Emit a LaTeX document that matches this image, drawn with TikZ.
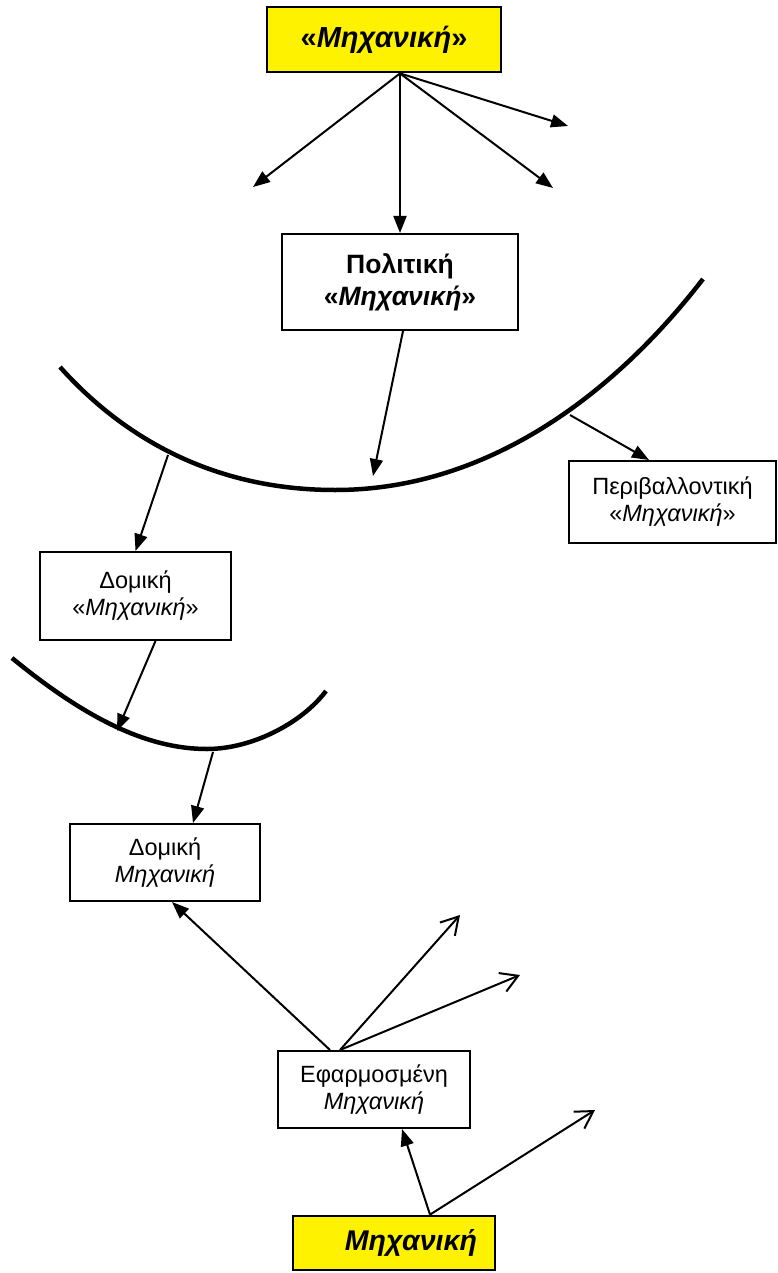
\documentclass[tikz,border=0pt]{standalone}
\usepackage{fontspec}
\setmainfont{Liberation Sans}
\usetikzlibrary{arrows.meta,calc}

\begin{document}
\begin{tikzpicture}[x=1pt,y=-1pt,
  box/.style={draw, line width=2pt, rectangle, inner sep=0pt, align=center,
              font=\fontsize{23.5}{27}\selectfont},
  ybox/.style={box, fill=yellow, line width=2.8pt},
  arr/.style={line width=2pt, -{Triangle[length=17pt,width=13pt]}},
  barbarrow/.style={line width=2pt, -{Straight Barb[length=17pt,width=20pt]}},
  curvestroke/.style={line width=4.5pt},
]
\useasboundingbox (0,0) rectangle (777,1273);

% boxes
\node[ybox, minimum width=234pt, minimum height=65pt,
      font=\fontsize{29}{34}\selectfont\bfseries] (top) at (384,39.5) {«\textit{Μηχανική}»};
\node[box, minimum width=236pt, minimum height=96pt,
      font=\fontsize{26.5}{32}\selectfont\bfseries] (pol) at (400,282) {Πολιτική\\«\textit{Μηχανική}»};
\node[box, minimum width=207pt, minimum height=82pt] (per) at (672.5,502) {Περιβαλλοντική\\«\textit{Μηχανική}»};
\node[box, minimum width=191pt, minimum height=88pt] (dom1) at (135.5,596) {Δομική\\«\textit{Μηχανική}»};
\node[box, minimum width=190pt, minimum height=77pt] (dom2) at (165,862.5) {Δομική\\\textit{Μηχανική}};
\node[box, minimum width=192pt, minimum height=77pt] (ef) at (374,1089.5) {Εφαρμοσμένη\\\textit{Μηχανική}};
\node[ybox, minimum width=202pt, minimum height=54pt] (bot) at (394,1243) {};
\node[font=\fontsize{28.5}{34}\selectfont\bfseries\itshape, inner sep=0pt] (botlabel) at ($(bot.center)+(17,0)$) {Μηχανική};

% arcs
\draw[curvestroke] (60,367) .. controls (128,443) and (220,490) .. (335,490)
                            .. controls (485,490) and (611.5,397.5) .. (703,279);
\draw[curvestroke] (12,658) .. controls (85,718) and (147,749) .. (207,749)
                            .. controls (252,749) and (302,723) .. (326,691);

% free ends and attachment points
\coordinate (apex) at ($(top.south)+(16,0)$);
\coordinate (t1) at (253,187);
\coordinate (t2) at (553,188);
\coordinate (t3) at (568,126);
\coordinate (a1in) at (373,476);
\coordinate (a1l) at (168,455);
\coordinate (a1r) at (570,415);
\coordinate (a2in) at (117,731);
\coordinate (a2out) at (213,752);
\coordinate (e1) at (460,915);
\coordinate (e2) at (520,975);
\coordinate (e3) at (595,1110);

% connectors
\draw[arr] (apex) -- (t1);
\draw[arr] (apex) -- (t2);
\draw[arr] (apex) -- (t3);
\draw[arr] (apex) -- (pol.north);
\draw[arr] ($(pol.south)+(3,0)$) -- (a1in);
\draw[arr] (a1r) -- ($(per.north west)+(81,0)$);
\draw[arr] (a1l) -- (dom1.north);
\draw[arr] ($(dom1.south)+(20,0)$) -- (a2in);
\draw[arr] (a2out) -- ($(dom2.north)+(28,0)$);
\draw[arr] ($(ef.north)+(-44,0)$) -- ($(dom2.south)+(7,0)$);
\draw[barbarrow] ($(ef.north)+(-34,0)$) -- (e1);
\draw[barbarrow] ($(ef.north)+(-34,0)$) -- (e2);
\draw[arr] ($(bot.north)+(36,0)$) -- ($(ef.south)+(28,0)$);
\draw[barbarrow] ($(bot.north)+(36,0)$) -- (e3);
\end{tikzpicture}
\end{document}
